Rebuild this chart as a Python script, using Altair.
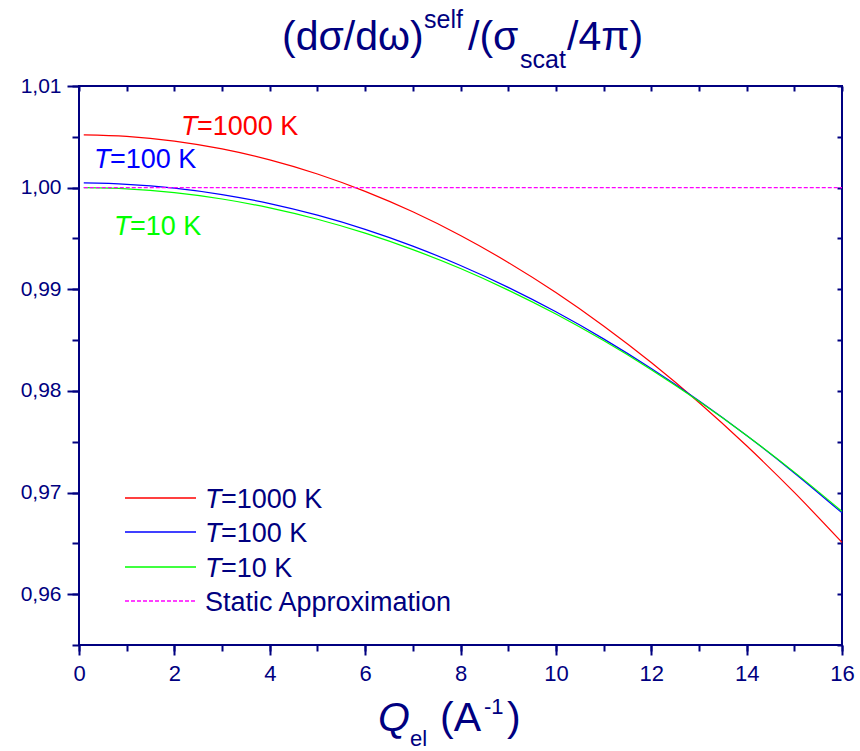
import altair as alt
import pandas as pd

# ---- data ----
q = [0.1, 1, 2, 3, 4, 5, 6, 7, 8, 9, 10, 11, 12, 13, 14, 15, 16]
t1000 = [1.00520, 1.00505, 1.00458, 1.00381, 1.00273, 1.00134, 0.99963, 0.99762,
         0.99529, 0.99264, 0.98968, 0.98639, 0.98279, 0.97886, 0.97460, 0.97001, 0.96509]
t100 = [1.00046, 1.00033, 0.99995, 0.99932, 0.99843, 0.99729, 0.99590, 0.99425,
        0.99234, 0.99019, 0.98778, 0.98512, 0.98220, 0.97903, 0.97561, 0.97193, 0.96800]
t10 = [1.00000, 0.99988, 0.99950, 0.99888, 0.99801, 0.99689, 0.99552, 0.99390,
       0.99204, 0.98992, 0.98756, 0.98495, 0.98209, 0.97898, 0.97562, 0.97201, 0.96815]
static_q = [0.1, 16]
static_val = [1.0, 1.0]

series = ["T=1000 K", "T=100 K", "T=10 K"]
series_colors = ["#ff0000", "#0000ff", "#00ff00"]
static_name = "Static Approximation"
static_color = "#ff00ff"

x_major = [0, 2, 4, 6, 8, 10, 12, 14, 16]
x_minor = [0, 1, 2, 3, 4, 5, 6, 7, 8, 9, 10, 11, 12, 13, 14, 15, 16]
y_major = [0.96, 0.97, 0.98, 0.99, 1.00, 1.01]
y_minor = [0.955, 0.96, 0.965, 0.97, 0.975, 0.98, 0.985, 0.99, 0.995, 1.0, 1.005, 1.01]

NAVY = "#000080"
FONT = "Liberation Sans"

rows = []
for name, vals in zip(series, [t1000, t100, t10]):
    for qq, vv in zip(q, vals):
        rows.append({"q": qq, "v": vv, "s": name})
curves = pd.DataFrame(rows)
static = pd.DataFrame({"q": static_q, "v": static_val})

xscale = alt.Scale(domain=[0, 16], nice=False)
yscale = alt.Scale(domain=[0.955, 1.01], nice=False, zero=False)

common_axis = dict(domain=False, grid=False, title=None, tickColor=NAVY, tickWidth=2,
                   labelColor=NAVY, labelFont=FONT, labelOverlap=False, labelFlush=False)

curves_layer = alt.Chart(curves).mark_line(strokeWidth=1.2, interpolate="monotone").encode(
    x=alt.X("q:Q", scale=xscale, axis=alt.Axis(orient="bottom", values=x_major, tickSize=10,
                                               labelFontSize=22, labelPadding=8, **common_axis)),
    y=alt.Y("v:Q", scale=yscale, axis=alt.Axis(orient="left", values=y_major, tickSize=12,
                                               labelFontSize=21, labelPadding=6,
                                               labelExpr="replace(format(datum.value, '.2f'), '.', ',')",
                                               **common_axis)),
    color=alt.Color("s:N", scale=alt.Scale(domain=series, range=series_colors), legend=None),
    detail="s:N",
)

static_layer = alt.Chart(static).mark_line(strokeWidth=1.3, strokeDash=[4, 2], color=static_color).encode(
    x=alt.X("q:Q", scale=xscale, axis=alt.Axis(orient="bottom", values=x_minor, tickSize=6,
                                               labels=False, **common_axis)),
    y=alt.Y("v:Q", scale=yscale, axis=alt.Axis(orient="left", values=y_minor, tickSize=7,
                                               labels=False, **common_axis)),
)

mirror_layer = alt.Chart(static).mark_line(opacity=0).encode(
    x=alt.X("q:Q", scale=xscale, axis=alt.Axis(orient="top", values=x_minor, tickSize=5, offset=-5,
                                               labels=False, **common_axis)),
    y=alt.Y("v:Q", scale=yscale, axis=alt.Axis(orient="right", values=y_minor, tickSize=5, offset=-5,
                                               labels=False, **common_axis)),
)


def txt(s, x, y, size, color=NAVY, style="normal"):
    return alt.Chart(alt.Data(values=[{}])).mark_text(
        text=s, align="left", baseline="alphabetic", fontSize=size, font=FONT,
        fontStyle=style, color=color).encode(x=alt.value(x), y=alt.value(y))


def rule(x1, x2, y, color, dash=None):
    kw = dict(color=color, strokeWidth=1.3)
    if dash:
        kw["strokeDash"] = dash
    return alt.Chart(alt.Data(values=[{}])).mark_rule(**kw).encode(
        x=alt.value(x1), x2=alt.value(x2), y=alt.value(y))


texts = []
# title
texts += [txt("(dσ/dω)", 203, -36, 41), txt("self", 345, -58, 25),
          txt("/(σ", 389, -36, 41), txt("scat", 441, -18, 25), txt("/4π)", 488, -36, 41)]
# x axis title
texts += [txt("Q", 299, 645, 41, style="italic"), txt("el", 331, 660, 22),
          txt("(A", 361, 645, 41), txt("-1", 405, 628, 22), txt(")", 428, 645, 41)]
# in-plot annotations
ann = [(series[0], series_colors[0], 102, 49), (series[1], series_colors[1], 15, 82),
       (series[2], series_colors[2], 35, 149)]
for name, col, ax, ay in ann:
    texts += [txt("T", ax, ay, 27, color=col, style="italic"), txt(name[1:], ax + 16, ay, 27, color=col)]
# legend
leg_y = [412, 446, 481, 515]
for i, (name, col) in enumerate(zip(series, series_colors)):
    texts += [rule(46, 117, leg_y[i], col), txt("T", 126, leg_y[i] + 10, 27, style="italic"),
              txt(name[1:], 142, leg_y[i] + 10, 27)]
texts += [rule(46, 117, leg_y[3], static_color, dash=[4, 2]), txt(static_name, 126, leg_y[3] + 10, 27)]

chart = alt.layer(curves_layer, static_layer, mirror_layer, *texts).resolve_axis(
    x="independent", y="independent"
).properties(
    width=763, height=559, autosize="none",
    padding={"left": 79, "top": 86, "right": 18, "bottom": 106},
).configure_view(stroke=NAVY, strokeWidth=2)

chart.save("out.html", embed_options={"renderer": "svg", "actions": False})
